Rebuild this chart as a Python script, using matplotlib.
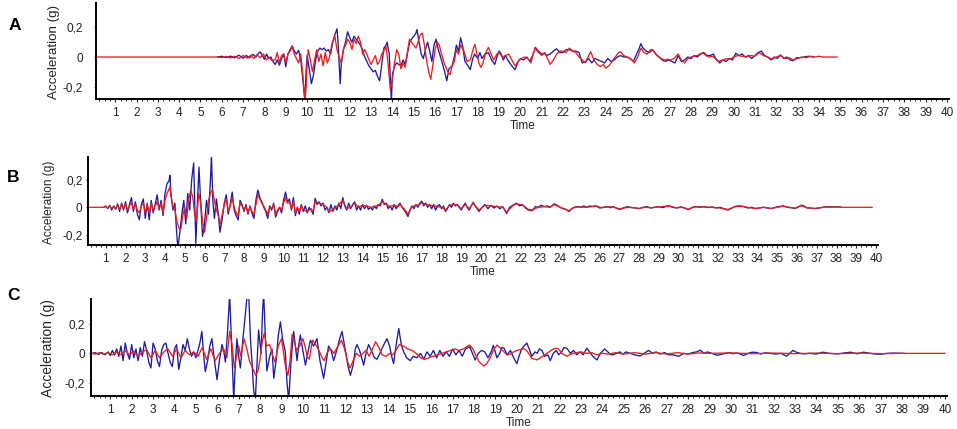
import numpy as np
import matplotlib.pyplot as plt
from matplotlib.ticker import MultipleLocator, FixedLocator, FixedFormatter

# (time, acceleration) pairs
a_blue = [(5.8,0.0),(6.0,0.005),(6.2,-0.004),(6.4,0.006),(6.6,-0.005),(6.8,0.012),(7.0,-0.008),(7.15,0.01),(7.3,-0.006),(7.45,0.018),(7.6,0.0),(7.7,0.022),(7.8,0.035),(7.9,0.01),(8.0,-0.015),(8.1,0.02),(8.2,-0.01),(8.3,0.0),(8.4,-0.03),(8.5,-0.05),(8.6,-0.02),(8.7,-0.055),(8.8,-0.01),(8.9,0.02),(9.0,-0.065),(9.1,0.02),(9.2,0.05),(9.3,0.075),(9.4,0.04),(9.5,0.02),(9.6,0.045),(9.7,-0.02),(9.8,-0.15),(9.9,-0.3),(9.95,-0.1),(10.0,0.01),(10.1,-0.08),(10.2,-0.18),(10.3,-0.12),(10.4,-0.02),(10.5,0.04),(10.6,0.06),(10.7,0.05),(10.8,0.06),(10.9,0.04),(11.0,0.05),(11.1,0.02),(11.2,0.1),(11.3,0.15),(11.4,0.19),(11.45,0.1),(11.55,-0.18),(11.6,-0.05),(11.7,0.05),(11.8,0.1),(11.9,0.17),(12.0,0.13),(12.1,0.1),(12.2,0.14),(12.3,0.12),(12.4,0.1),(12.5,0.08),(12.6,0.05),(12.7,0.0),(12.8,-0.03),(12.9,-0.06),(13.0,-0.08),(13.1,-0.1),(13.2,-0.09),(13.3,-0.13),(13.4,-0.16),(13.5,-0.05),(13.6,0.06),(13.7,0.08),(13.75,0.1),(13.85,0.02),(13.95,-0.3),(14.0,-0.12),(14.1,-0.06),(14.2,-0.04),(14.3,-0.05),(14.4,-0.06),(14.5,-0.02),(14.6,-0.05),(14.7,0.02),(14.8,0.1),(14.9,0.12),(15.0,0.14),(15.1,0.16),(15.15,0.185),(15.25,0.1),(15.35,0.02),(15.45,-0.01),(15.55,0.05),(15.65,0.1),(15.75,0.04),(15.85,-0.03),(15.95,0.08),(16.05,0.12),(16.15,0.05),(16.3,-0.02),(16.45,-0.1),(16.55,-0.16),(16.65,-0.08),(16.8,-0.06),(16.9,0.0),(17.0,0.08),(17.1,0.04),(17.2,0.13),(17.3,0.07),(17.4,-0.03),(17.55,-0.06),(17.65,-0.085),(17.75,-0.02),(17.85,0.02),(18.0,-0.01),(18.1,0.03),(18.2,-0.01),(18.35,0.02),(18.5,0.03),(18.65,-0.02),(18.8,-0.05),(18.9,0.0),(19.0,0.04),(19.1,0.02),(19.2,-0.02),(19.3,0.01),(19.45,-0.03),(19.6,-0.06),(19.75,-0.085),(19.9,-0.03),(20.0,-0.01),(20.15,-0.02),(20.3,0.0),(20.45,-0.03),(20.6,0.02),(20.7,0.065),(20.85,0.04),(21.0,0.02),(21.1,0.025),(21.25,0.01),(21.4,0.02),(21.55,0.04),(21.7,0.055),(21.85,0.03),(22.0,0.03),(22.15,0.05),(22.3,0.05),(22.45,0.04),(22.6,0.04),(22.75,0.03),(22.9,-0.04),(23.05,-0.03),(23.2,-0.01),(23.35,-0.04),(23.5,-0.01),(23.65,-0.02),(23.8,-0.03),(23.95,-0.04),(24.1,-0.01),(24.25,-0.03),(24.4,-0.02),(24.55,0.0),(24.7,0.01),(24.85,0.0),(25.0,0.0),(25.15,-0.01),(25.3,-0.03),(25.45,0.02),(25.55,0.05),(25.65,0.09),(25.75,0.06),(25.9,0.04),(26.05,0.03),(26.2,0.05),(26.35,0.02),(26.5,0.0),(26.65,-0.02),(26.8,-0.03),(26.95,-0.02),(27.1,-0.03),(27.25,-0.04),(27.4,0.01),(27.55,-0.03),(27.7,-0.02),(27.85,0.0),(28.0,-0.01),(28.15,0.01),(28.3,0.0),(28.45,0.02),(28.6,0.03),(28.75,0.01),(28.9,0.01),(29.05,0.02),(29.2,-0.02),(29.35,-0.04),(29.5,-0.02),(29.65,-0.03),(29.8,-0.01),(29.95,-0.02),(30.1,0.025),(30.25,0.01),(30.4,0.02),(30.55,0.0),(30.7,0.01),(30.85,-0.01),(31.0,0.01),(31.15,0.03),(31.3,0.04),(31.45,0.01),(31.6,0.0),(31.75,-0.02),(31.9,0.0),(32.05,-0.01),(32.2,0.015),(32.35,-0.01),(32.5,0.0),(32.65,-0.02),(32.8,-0.025),(32.95,-0.005),(33.1,-0.005),(33.3,0.0),(33.5,0.005),(33.76,0.0)]

a_red = [(0.1,0.0),(5.8,0.0),(6.0,-0.004),(6.2,0.004),(6.4,-0.006),(6.6,0.005),(6.8,-0.01),(7.0,0.01),(7.2,-0.008),(7.35,0.012),(7.5,-0.01),(7.65,0.015),(7.8,-0.005),(7.95,0.02),(8.1,-0.02),(8.2,0.0),(8.35,-0.025),(8.5,-0.02),(8.6,0.03),(8.7,-0.04),(8.8,0.01),(8.9,0.02),(9.0,-0.04),(9.1,0.02),(9.2,0.04),(9.3,0.07),(9.4,0.02),(9.5,-0.01),(9.6,-0.04),(9.7,0.02),(9.8,-0.12),(9.9,-0.3),(9.95,-0.2),(10.0,-0.05),(10.05,0.05),(10.15,-0.02),(10.25,-0.1),(10.35,-0.02),(10.45,0.05),(10.55,-0.03),(10.65,0.02),(10.75,-0.06),(10.85,0.03),(10.95,-0.04),(11.05,0.0),(11.15,0.08),(11.3,0.14),(11.4,0.05),(11.5,0.0),(11.6,-0.04),(11.7,0.05),(11.8,0.08),(11.9,0.12),(12.0,0.1),(12.1,0.05),(12.2,0.12),(12.3,0.09),(12.4,0.14),(12.5,0.1),(12.6,0.02),(12.7,0.05),(12.8,0.02),(12.9,-0.02),(13.0,-0.05),(13.1,-0.02),(13.2,0.01),(13.3,-0.05),(13.4,-0.03),(13.5,0.02),(13.6,0.04),(13.7,0.07),(13.8,-0.05),(13.9,-0.22),(14.0,-0.15),(14.1,-0.04),(14.2,0.05),(14.3,0.02),(14.4,-0.08),(14.5,-0.04),(14.6,-0.07),(14.7,0.03),(14.8,0.12),(14.9,0.1),(15.0,0.08),(15.1,0.06),(15.2,0.1),(15.3,0.15),(15.4,0.16),(15.5,0.08),(15.6,-0.02),(15.7,-0.1),(15.8,-0.15),(15.9,-0.05),(16.0,0.05),(16.1,0.1),(16.2,0.08),(16.3,0.02),(16.45,-0.05),(16.6,-0.1),(16.7,-0.12),(16.8,-0.06),(16.9,-0.03),(17.0,0.05),(17.1,0.02),(17.2,0.08),(17.35,0.04),(17.5,-0.03),(17.65,-0.02),(17.8,0.06),(17.87,0.085),(17.95,0.03),(18.05,-0.04),(18.15,-0.07),(18.25,-0.04),(18.35,0.02),(18.5,0.065),(18.6,0.03),(18.75,-0.02),(18.9,0.02),(19.0,0.03),(19.15,0.0),(19.3,0.01),(19.45,0.02),(19.6,-0.02),(19.75,-0.06),(19.9,-0.03),(20.05,-0.01),(20.2,0.0),(20.35,-0.01),(20.5,-0.04),(20.6,0.02),(20.7,0.06),(20.85,0.03),(21.0,0.01),(21.15,0.03),(21.3,-0.02),(21.4,-0.05),(21.55,-0.02),(21.7,0.02),(21.85,0.04),(22.0,0.04),(22.15,0.03),(22.3,0.06),(22.45,0.04),(22.6,0.03),(22.75,0.0),(22.9,-0.02),(23.05,-0.04),(23.2,0.01),(23.3,0.035),(23.45,-0.02),(23.6,-0.05),(23.75,-0.065),(23.9,-0.05),(24.0,-0.075),(24.15,-0.06),(24.3,-0.03),(24.45,0.0),(24.6,0.03),(24.7,0.035),(24.85,0.01),(25.0,0.0),(25.15,-0.01),(25.35,-0.04),(25.5,0.0),(25.65,0.06),(25.8,0.03),(25.95,0.02),(26.1,0.05),(26.25,0.04),(26.4,0.01),(26.6,-0.01),(26.75,-0.02),(26.9,-0.015),(27.05,-0.02),(27.2,-0.01),(27.4,0.02),(27.55,-0.02),(27.7,-0.04),(27.85,-0.01),(28.0,0.0),(28.15,0.005),(28.3,0.01),(28.55,0.03),(28.7,0.01),(28.85,0.0),(29.0,0.005),(29.15,-0.01),(29.3,-0.03),(29.5,-0.02),(29.7,-0.01),(29.85,-0.015),(30.0,0.0),(30.2,0.01),(30.4,0.005),(30.6,0.0),(30.8,0.01),(31.0,0.005),(31.2,0.03),(31.4,0.01),(31.6,0.0),(31.8,-0.015),(32.0,0.0),(32.2,0.01),(32.4,-0.01),(32.6,-0.005),(32.8,-0.02),(33.0,-0.01),(33.2,0.0),(33.4,-0.005),(33.6,0.005),(33.8,0.0),(34.0,0.005),(34.2,0.0),(34.85,0.0)]

b_blue = [(0.9,0.0),(1.0,0.01),(1.1,-0.01),(1.2,0.015),(1.3,-0.02),(1.4,0.01),(1.5,-0.015),(1.6,0.025),(1.7,-0.03),(1.8,0.03),(1.9,-0.02),(2.0,0.04),(2.1,-0.04),(2.2,0.02),(2.3,0.07),(2.4,-0.03),(2.5,0.04),(2.6,-0.05),(2.7,-0.09),(2.8,0.02),(2.9,0.06),(3.0,-0.08),(3.1,0.03),(3.2,-0.09),(3.3,0.05),(3.4,-0.04),(3.5,0.02),(3.6,0.09),(3.7,-0.02),(3.8,0.05),(3.9,-0.06),(4.0,0.1),(4.1,0.17),(4.2,0.19),(4.25,0.23),(4.3,0.1),(4.4,-0.02),(4.5,0.03),(4.55,-0.1),(4.65,-0.3),(4.75,-0.18),(4.85,-0.05),(4.95,0.05),(5.05,-0.12),(5.15,0.1),(5.25,-0.02),(5.35,0.2),(5.45,0.32),(5.5,0.05),(5.56,-0.26),(5.63,0.0),(5.72,0.29),(5.8,0.05),(5.9,-0.21),(6.0,-0.12),(6.1,0.05),(6.2,-0.05),(6.3,0.2),(6.35,0.37),(6.42,0.05),(6.5,-0.08),(6.6,0.06),(6.7,-0.05),(6.78,-0.18),(6.9,-0.08),(7.0,0.03),(7.1,0.09),(7.2,-0.05),(7.3,0.02),(7.4,0.11),(7.5,-0.02),(7.6,-0.06),(7.7,-0.09),(7.8,0.05),(7.9,0.02),(8.0,-0.03),(8.1,0.02),(8.2,-0.05),(8.3,0.01),(8.4,-0.04),(8.5,-0.08),(8.6,0.05),(8.7,0.125),(8.8,0.07),(8.9,0.04),(9.0,0.0),(9.1,-0.03),(9.2,-0.08),(9.3,0.01),(9.4,-0.02),(9.5,0.03),(9.6,-0.07),(9.7,-0.03),(9.8,0.0),(9.9,-0.04),(10.0,0.05),(10.1,0.11),(10.2,0.04),(10.3,0.06),(10.4,-0.02),(10.5,0.07),(10.6,-0.06),(10.7,0.0),(10.8,-0.05),(10.9,0.02),(11.0,-0.03),(11.1,0.01),(11.2,-0.04),(11.3,0.0),(11.4,-0.02),(11.5,-0.05),(11.6,0.065),(11.7,0.02),(11.8,0.04),(11.9,0.01),(12.0,0.03),(12.1,-0.02),(12.2,0.0),(12.3,-0.04),(12.4,0.02),(12.5,-0.03),(12.6,0.01),(12.7,-0.02),(12.8,0.03),(12.9,-0.01),(13.0,0.07),(13.1,0.01),(13.2,-0.02),(13.3,0.03),(13.4,-0.01),(13.5,0.02),(13.6,0.04),(13.7,-0.02),(13.8,0.01),(13.9,-0.02),(14.0,0.02),(14.1,-0.01),(14.2,0.015),(14.3,-0.015),(14.4,0.0),(14.5,-0.02),(14.6,0.01),(14.7,-0.01),(14.8,0.02),(14.9,0.01),(15.0,0.058),(15.1,0.02),(15.2,0.03),(15.3,-0.01),(15.4,0.01),(15.5,-0.02),(15.6,0.02),(15.7,-0.01),(15.8,0.01),(15.9,0.03),(16.0,0.0),(16.1,-0.02),(16.2,-0.04),(16.3,-0.067),(16.4,-0.02),(16.5,0.01),(16.6,-0.01),(16.7,0.02),(16.8,0.0),(16.9,0.03),(17.0,0.045),(17.1,0.01),(17.2,0.03),(17.3,0.0),(17.4,0.02),(17.5,-0.01),(17.6,0.02),(17.7,-0.02),(17.8,0.01),(17.9,0.02),(18.0,-0.01),(18.1,0.01),(18.2,-0.03),(18.3,-0.01),(18.4,0.02),(18.5,0.0),(18.6,0.03),(18.7,0.01),(18.8,0.02),(18.9,0.0),(19.0,-0.02),(19.1,0.01),(19.2,0.03),(19.3,0.0),(19.4,-0.02),(19.6,0.036),(19.75,0.0),(19.9,-0.03),(20.05,0.0),(20.2,0.02),(20.35,-0.01),(20.5,0.015),(20.65,-0.005),(20.8,0.01),(20.95,-0.01),(21.1,0.005),(21.3,-0.045),(21.45,0.0),(21.6,0.015),(21.8,0.03),(21.95,0.01),(22.1,0.02),(22.25,-0.005),(22.4,-0.02),(22.6,-0.025),(22.75,0.005),(22.9,0.0),(23.05,0.015),(23.2,0.005),(23.35,0.01),(23.5,0.0),(23.7,0.025),(23.85,0.015),(24.0,0.0),(24.15,-0.01),(24.3,-0.015),(24.45,-0.03),(24.6,-0.01),(24.75,0.0),(24.9,0.005),(25.05,0.0),(25.2,0.01),(25.35,0.0),(25.5,0.01),(25.65,0.005),(25.8,0.012),(26.0,-0.005),(26.2,0.0),(26.4,0.005),(26.55,-0.003),(26.7,0.005),(26.9,-0.01),(27.05,-0.015),(27.2,-0.005),(27.4,0.005),(27.6,-0.002),(27.8,-0.005),(28.0,-0.01),(28.2,0.0),(28.4,0.005),(28.6,-0.005),(28.8,0.0),(29.0,0.005),(29.2,-0.002),(29.5,0.012),(29.7,0.0),(29.9,-0.005),(30.1,0.003),(30.3,-0.005),(30.5,-0.017),(30.7,0.0),(30.9,0.005),(31.1,0.0),(31.3,0.005),(31.5,-0.002),(31.7,0.003),(31.9,-0.005),(32.1,0.0),(32.3,-0.01),(32.5,-0.02),(32.7,-0.005),(32.9,0.008),(33.1,0.01),(33.3,0.005),(33.5,-0.005),(33.7,0.0),(33.9,-0.01),(34.1,-0.005),(34.3,0.0),(34.5,-0.005),(34.7,-0.01),(34.9,0.0),(35.1,0.005),(35.3,0.01),(35.5,0.0),(35.7,-0.003),(35.9,-0.008),(36.05,0.0),(36.2,0.015),(36.35,0.01),(36.5,-0.005),(36.7,-0.006),(36.9,-0.01),(37.1,-0.006),(37.3,0.0),(37.5,0.004),(37.7,0.003),(37.9,0.004),(38.2,0.002)]

b_red = [(0.1,0.0),(0.9,0.0),(1.0,0.005),(1.1,-0.005),(1.2,0.01),(1.3,-0.01),(1.4,0.005),(1.5,-0.01),(1.6,0.015),(1.7,-0.015),(1.8,0.02),(1.9,-0.01),(2.0,0.025),(2.1,-0.02),(2.2,0.01),(2.3,0.035),(2.4,-0.015),(2.5,0.02),(2.6,-0.02),(2.7,-0.04),(2.8,0.01),(2.9,0.03),(3.0,-0.04),(3.1,0.02),(3.2,-0.04),(3.3,0.03),(3.4,-0.02),(3.5,0.01),(3.6,0.04),(3.7,-0.01),(3.8,0.03),(3.9,-0.04),(4.0,0.05),(4.1,0.1),(4.2,0.13),(4.25,0.15),(4.3,0.08),(4.4,0.0),(4.5,-0.02),(4.6,-0.1),(4.7,-0.15),(4.8,-0.16),(4.9,-0.06),(5.0,0.0),(5.1,-0.08),(5.2,0.06),(5.3,0.12),(5.4,0.08),(5.5,-0.05),(5.6,-0.1),(5.7,0.1),(5.8,0.04),(5.9,-0.1),(6.0,-0.18),(6.1,-0.08),(6.2,0.05),(6.3,0.1),(6.4,0.13),(6.5,0.05),(6.6,-0.02),(6.7,-0.06),(6.8,-0.12),(6.9,-0.05),(7.0,0.02),(7.1,0.06),(7.2,-0.03),(7.3,0.01),(7.4,0.07),(7.5,0.0),(7.6,-0.04),(7.7,-0.06),(7.8,0.03),(7.9,0.01),(8.0,-0.02),(8.1,0.01),(8.2,-0.04),(8.3,0.0),(8.4,-0.03),(8.5,-0.05),(8.6,0.02),(8.7,0.09),(8.8,0.06),(8.9,0.03),(9.0,0.01),(9.1,-0.02),(9.2,-0.05),(9.3,0.0),(9.4,-0.01),(9.5,0.02),(9.6,-0.05),(9.7,-0.02),(9.8,0.0),(9.9,-0.02),(10.0,0.03),(10.1,0.07),(10.2,0.03),(10.3,0.04),(10.4,-0.01),(10.5,0.04),(10.6,-0.04),(10.7,0.0),(10.8,-0.03),(10.9,0.01),(11.0,-0.02),(11.2,-0.03),(11.4,-0.01),(11.5,-0.03),(11.6,0.04),(11.8,0.03),(12.0,0.02),(12.2,0.0),(12.3,-0.03),(12.5,-0.02),(12.8,0.02),(13.0,0.05),(13.2,-0.01),(13.4,0.0),(13.6,0.03),(13.8,0.0),(14.0,0.015),(14.2,0.01),(14.4,0.0),(14.6,0.005),(14.8,0.015),(15.0,0.04),(15.2,0.02),(15.4,0.005),(15.6,0.015),(15.8,0.005),(15.9,0.02),(16.1,-0.01),(16.3,-0.05),(16.5,0.005),(16.7,0.015),(16.9,0.02),(17.0,0.035),(17.2,0.02),(17.4,0.015),(17.6,0.01),(17.8,0.005),(18.0,0.0),(18.2,-0.02),(18.4,0.015),(18.6,0.02),(18.8,0.015),(19.0,-0.01),(19.2,0.02),(19.4,-0.01),(19.6,0.03),(19.9,-0.02),(20.2,0.015),(20.5,0.01),(20.8,0.005),(21.1,0.0),(21.3,-0.035),(21.6,0.01),(21.8,0.025),(22.1,0.015),(22.4,-0.015),(22.6,-0.02),(22.9,0.0),(23.2,0.005),(23.5,0.0),(23.7,0.02),(24.0,0.0),(24.2,-0.01),(24.45,-0.025),(24.7,0.0),(25.0,0.003),(25.3,0.0),(25.6,0.005),(25.8,0.01),(26.1,-0.003),(26.4,0.003),(26.7,0.003),(27.0,-0.012),(27.3,-0.003),(27.6,0.0),(28.0,-0.008),(28.3,0.0),(28.6,-0.003),(29.0,0.003),(29.5,0.01),(29.9,-0.004),(30.2,0.0),(30.5,-0.014),(30.8,0.003),(31.2,0.003),(31.6,0.0),(32.0,-0.003),(32.5,-0.016),(32.9,0.006),(33.2,0.008),(33.6,-0.003),(33.9,-0.008),(34.3,0.0),(34.7,-0.008),(35.1,0.003),(35.3,0.008),(35.7,-0.002),(35.9,-0.006),(36.2,0.012),(36.5,-0.003),(36.9,-0.008),(37.3,0.0),(37.7,0.002),(38.2,0.002),(38.3,0.0),(39.8,0.0)]

c_blue = [(0.15,0.0),(0.3,0.005),(0.45,-0.008),(0.6,0.006),(0.75,-0.01),(0.9,0.01),(1.0,-0.015),(1.1,0.02),(1.2,-0.01),(1.3,0.03),(1.4,-0.02),(1.5,0.05),(1.6,-0.05),(1.7,0.07),(1.8,0.0),(1.9,-0.04),(2.0,0.06),(2.1,-0.03),(2.2,0.03),(2.3,-0.05),(2.4,0.04),(2.5,-0.02),(2.6,0.08),(2.7,0.02),(2.8,-0.06),(2.9,-0.1),(3.0,0.07),(3.1,0.03),(3.2,-0.05),(3.3,-0.09),(3.4,0.02),(3.5,0.06),(3.6,0.07),(3.7,0.0),(3.8,-0.06),(3.9,-0.09),(4.0,0.03),(4.1,0.06),(4.2,-0.11),(4.3,-0.03),(4.4,0.06),(4.5,0.02),(4.6,0.1),(4.7,0.03),(4.8,-0.02),(4.9,0.01),(5.0,-0.03),(5.1,0.02),(5.2,0.08),(5.28,0.15),(5.36,0.0),(5.44,-0.125),(5.55,-0.05),(5.65,0.05),(5.75,0.1),(5.87,-0.05),(5.99,-0.18),(6.1,-0.05),(6.22,0.06),(6.3,0.02),(6.38,-0.06),(6.48,0.15),(6.58,0.4),(6.67,0.05),(6.77,-0.32),(6.85,-0.05),(6.92,0.1),(7.0,-0.02),(7.08,-0.1),(7.2,0.1),(7.3,0.25),(7.4,0.4),(7.47,0.4),(7.55,0.1),(7.62,-0.05),(7.7,-0.25),(7.78,-0.32),(7.85,-0.1),(7.93,0.16),(8.05,0.0),(8.12,0.3),(8.17,0.4),(8.25,0.1),(8.32,-0.12),(8.45,-0.02),(8.56,0.03),(8.64,-0.17),(8.75,-0.05),(8.85,0.12),(8.95,0.215),(9.05,0.1),(9.18,0.01),(9.26,-0.2),(9.34,-0.32),(9.45,-0.05),(9.57,0.15),(9.65,0.05),(9.73,-0.05),(9.8,0.05),(9.88,0.125),(10.0,0.02),(10.12,-0.08),(10.23,0.0),(10.35,0.09),(10.5,0.05),(10.66,0.1),(10.8,-0.05),(10.97,-0.17),(11.1,-0.05),(11.2,0.05),(11.32,0.02),(11.44,-0.05),(11.6,0.03),(11.72,0.1),(11.83,0.15),(11.95,0.05),(12.1,-0.08),(12.22,-0.15),(12.35,-0.08),(12.45,0.03),(12.53,0.06),(12.65,0.02),(12.84,-0.08),(12.95,0.0),(13.07,0.06),(13.2,0.02),(13.35,-0.03),(13.46,-0.04),(13.6,0.0),(13.75,0.05),(13.93,0.1),(14.05,0.05),(14.15,-0.02),(14.24,-0.07),(14.35,0.05),(14.48,0.17),(14.6,0.06),(14.71,0.01),(14.85,-0.03),(15.02,-0.05),(15.15,-0.02),(15.33,-0.03),(15.5,0.0),(15.65,-0.04),(15.8,0.01),(15.95,-0.02),(16.1,0.02),(16.25,-0.03),(16.4,0.02),(16.55,-0.02),(16.7,0.01),(16.85,-0.02),(17.0,0.03),(17.15,-0.01),(17.3,0.02),(17.45,-0.02),(17.6,0.03),(17.8,0.045),(17.95,-0.01),(18.05,-0.045),(18.2,0.0),(18.35,0.02),(18.5,0.01),(18.65,-0.03),(18.8,0.01),(18.9,0.055),(19.07,-0.03),(19.2,0.0),(19.3,0.04),(19.4,0.035),(19.55,-0.01),(19.7,0.02),(19.85,-0.03),(20.0,-0.07),(20.1,-0.02),(20.2,0.02),(20.3,0.045),(20.47,0.07),(20.6,0.02),(20.7,-0.02),(20.85,0.01),(20.95,0.0),(21.05,0.03),(21.17,0.02),(21.3,-0.02),(21.45,-0.01),(21.56,-0.05),(21.7,0.0),(21.85,0.02),(21.95,-0.01),(22.1,0.01),(22.2,0.04),(22.34,0.035),(22.5,0.0),(22.65,0.02),(22.8,-0.01),(22.95,0.01),(23.1,-0.01),(23.27,0.035),(23.4,0.01),(23.55,-0.02),(23.74,-0.045),(23.9,0.0),(24.1,0.03),(24.25,0.01),(24.4,-0.01),(24.5,-0.01),(24.65,0.0),(24.8,0.01),(24.95,-0.005),(25.1,0.01),(25.3,0.0),(25.5,-0.01),(25.75,-0.018),(25.95,0.0),(26.15,0.02),(26.35,0.0),(26.5,0.01),(26.7,-0.005),(26.9,0.005),(27.1,-0.01),(27.3,-0.01),(27.56,-0.02),(27.8,0.0),(28.0,-0.005),(28.2,0.005),(28.4,0.01),(28.57,0.022),(28.75,0.0),(28.9,0.01),(29.1,0.0),(29.37,-0.013),(29.6,-0.005),(29.9,0.005),(30.1,-0.002),(30.3,0.003),(30.6,-0.015),(30.8,0.0),(31.0,0.008),(31.2,0.006),(31.4,-0.005),(31.6,0.004),(31.85,0.0),(32.1,-0.005),(32.35,0.0),(32.6,-0.02),(32.9,0.02),(33.1,0.005),(33.4,-0.004),(33.7,0.0),(34.0,-0.005),(34.3,0.008),(34.6,0.0),(35.0,-0.004),(35.3,0.003),(35.6,0.008),(35.9,-0.003),(36.2,0.008),(36.5,0.0),(36.8,-0.005),(37.0,-0.006),(37.3,0.0),(37.6,0.002),(38.1,0.0)]

c_red = [(0.1,0.0),(0.3,-0.005),(0.5,0.005),(0.7,-0.005),(0.9,0.005),(1.1,-0.01),(1.3,0.01),(1.5,-0.01),(1.7,0.02),(1.9,-0.01),(2.1,0.015),(2.3,-0.02),(2.5,0.01),(2.7,0.025),(2.9,-0.03),(3.1,0.02),(3.3,-0.03),(3.5,0.01),(3.7,0.03),(3.9,-0.02),(4.1,0.03),(4.3,-0.03),(4.5,0.02),(4.7,-0.01),(4.9,0.01),(5.1,-0.02),(5.3,0.04),(5.5,-0.04),(5.7,0.03),(5.9,-0.05),(6.1,0.0),(6.3,0.03),(6.45,-0.03),(6.58,0.15),(6.7,0.05),(6.8,-0.1),(6.9,-0.02),(7.0,0.05),(7.1,-0.02),(7.25,0.1),(7.4,0.02),(7.5,-0.05),(7.65,-0.1),(7.8,-0.15),(7.9,-0.12),(8.0,-0.04),(8.1,0.08),(8.2,0.14),(8.3,0.05),(8.45,0.06),(8.6,-0.02),(8.7,-0.06),(8.85,0.05),(9.0,0.1),(9.1,0.0),(9.2,-0.1),(9.3,-0.15),(9.4,-0.05),(9.5,0.13),(9.6,0.08),(9.7,0.02),(9.85,0.05),(10.0,0.1),(10.1,0.05),(10.2,-0.02),(10.3,-0.04),(10.45,0.09),(10.6,0.06),(10.75,0.02),(10.9,-0.03),(11.0,-0.05),(11.15,0.01),(11.3,0.03),(11.45,0.0),(11.6,0.04),(11.8,0.09),(11.95,0.03),(12.1,-0.06),(12.2,-0.1),(12.35,-0.05),(12.5,0.0),(12.65,-0.02),(12.8,0.0),(12.95,0.02),(13.1,-0.02),(13.25,0.03),(13.4,0.08),(13.55,0.04),(13.7,-0.01),(13.9,-0.02),(14.05,0.0),(14.2,-0.01),(14.35,0.02),(14.5,0.06),(14.7,0.05),(14.9,0.03),(15.1,0.02),(15.3,0.0),(15.5,-0.03),(15.7,-0.04),(15.9,-0.03),(16.1,-0.02),(16.3,-0.01),(16.5,0.0),(16.7,0.01),(16.9,0.02),(17.1,0.03),(17.3,0.02),(17.5,0.03),(17.65,0.045),(17.8,0.057),(17.95,0.03),(18.1,-0.02),(18.25,-0.06),(18.45,-0.086),(18.6,-0.07),(18.75,-0.03),(18.9,0.02),(19.07,0.057),(19.2,0.04),(19.4,0.01),(19.55,-0.01),(19.7,-0.005),(19.85,0.01),(20.0,0.02),(20.15,0.025),(20.3,0.034),(20.45,0.02),(20.6,-0.01),(20.7,-0.035),(20.85,-0.04),(20.93,-0.045),(21.1,-0.03),(21.3,-0.01),(21.5,0.01),(21.7,0.03),(21.85,0.035),(21.95,0.03),(22.1,0.0),(22.34,-0.02),(22.5,-0.005),(22.65,0.0),(22.8,0.005),(23.0,0.01),(23.27,0.0),(23.5,0.005),(23.74,-0.01),(24.0,0.0),(24.3,-0.005),(24.6,0.005),(25.0,-0.005),(25.5,0.005),(26.0,-0.005),(26.5,0.005),(27.0,-0.005),(27.5,0.005),(28.0,-0.005),(28.5,0.003),(29.0,0.0),(30.0,0.003),(31.0,-0.002),(32.0,0.002),(33.0,-0.002),(34.0,0.002),(35.0,-0.002),(36.0,0.002),(37.0,-0.002),(38.0,0.0),(40.0,0.0)]

y_ticks = [-0.2, 0.0, 0.2]
y_tick_labels = ['-0,2', '0', '0,2']
x_ticks = list(range(1, 41))

plt.rcParams['font.family'] = ['Liberation Sans', 'DejaVu Sans']

BLUE = '#1c1ca0'
RED = '#ee1c1c'
TEXT = '#222222'

fig = plt.figure(figsize=(9.57, 4.29), dpi=100)

# letter, blue, red, axes rect (fig px: left, top, right, bottom), ylim,
# ytick pad, ylabel size, letter pos
panels = [
    ('A', a_blue, a_red, (96, 3, 949, 99), (-0.283, 0.364), 8.0, 9.6, (15, 26)),
    ('B', b_blue, b_red, (88, 157, 878, 245), (-0.272, 0.363), 2.5, 8.6, (13, 178)),
    ('C', c_blue, c_red, (91, 299, 947, 396), (-0.291, 0.371), 3.0, 10.0, (13, 296)),
]

W, H = 957.0, 429.0
for letter, blue, red, (l, t, r, b), ylim, ypad, ysize, (lx, ly) in panels:
    ax = fig.add_axes([l / W, 1 - b / H, (r - l) / W, (b - t) / H])
    bt, bv = zip(*blue)
    rt, rv = zip(*red)
    ax.plot(bt, bv, color=BLUE, lw=0.95)
    ax.plot(rt, rv, color=RED, lw=0.95)

    ax.set_xlim(0.1, 40.1)
    ax.set_ylim(*ylim)

    for side in ['top', 'right']:
        ax.spines[side].set_visible(False)
    for side in ['left', 'bottom']:
        ax.spines[side].set_linewidth(1.4)
        ax.spines[side].set_color('black')

    ax.xaxis.set_major_locator(FixedLocator(x_ticks))
    ax.xaxis.set_minor_locator(MultipleLocator(0.25))
    ax.set_xticklabels([str(v) for v in x_ticks])
    ax.tick_params(axis='x', which='major', length=2.5, width=0.8, pad=3, labelsize=8.5, colors=TEXT)
    ax.tick_params(axis='x', which='minor', length=1.5, width=0.6)

    ax.yaxis.set_major_locator(FixedLocator(y_ticks))
    ax.yaxis.set_major_formatter(FixedFormatter(y_tick_labels))
    ax.tick_params(axis='y', length=1.5, width=0.7, pad=ypad, labelsize=8.5, colors=TEXT)

    ax.set_xlabel('Time', fontsize=8.5, labelpad=1, color=TEXT)
    ax.set_ylabel('Acceleration (g)', fontsize=ysize, color=TEXT)
    ax.yaxis.set_label_coords(-0.042, 0.49)

    fig.text(lx / W, 1 - ly / H, letter, fontsize=12.5, fontweight='bold',
             ha='center', va='center')

fig.savefig('out.png', dpi=100)
